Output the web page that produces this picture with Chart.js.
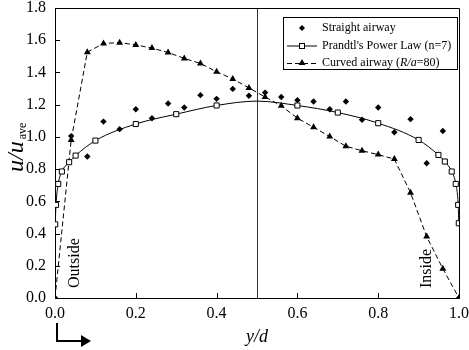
<!DOCTYPE html>
<html>
<head>
<meta charset="utf-8">
<script src="https://cdn.jsdelivr.net/npm/chart.js@4.4.0/dist/chart.umd.min.js"></script>
<style>
  html, body { margin: 0; padding: 0; background: #fff; }
  #wrap { width: 469px; height: 350px; }
</style>
</head>
<body>
<div id="wrap"><canvas id="chart" width="469" height="350"></canvas></div>
<script>
// Measured profiles (y/d vs u/u_ave)
const gridX = [0, 0.04, 0.08, 0.12, 0.16, 0.20, 0.24, 0.28, 0.32, 0.36, 0.40, 0.44, 0.48,
               0.52, 0.56, 0.60, 0.64, 0.68, 0.72, 0.76, 0.80, 0.84, 0.88, 0.92, 0.96, 1.0];

const straightY = [0, 1.005, 0.878, 1.095, 1.048, 1.172, 1.116, 1.207, 1.182, 1.259, 1.236, 1.298, 1.255,
                   1.275, 1.248, 1.228, 1.220, 1.172, 1.220, 1.106, 1.182, 1.029, 1.110, 0.836, 1.037, 0];

const curvedY = [0, 0.980, 1.526, 1.580, 1.585, 1.571, 1.551, 1.524, 1.487, 1.456, 1.404, 1.360, 1.304,
                 1.248, 1.193, 1.116, 1.060, 1.002, 0.942, 0.914, 0.890, 0.862, 0.654, 0.381, 0.182, 0];

// Prandtl's power law curve (n=7)
const prandtlX = [0.0005, 0.0025, 0.008, 0.017, 0.035, 0.051, 0.1, 0.2, 0.3, 0.4, 0.5,
                  0.6, 0.7, 0.8, 0.9, 0.949, 0.965, 0.982, 0.992, 0.998, 0.9995];
const prandtlY = [0.457, 0.578, 0.708, 0.785, 0.843, 0.884, 0.977, 1.080, 1.141, 1.195, 1.222,
                  1.195, 1.151, 1.085, 0.981, 0.888, 0.847, 0.785, 0.708, 0.578, 0.464];

const xTicks = [0, 0.2, 0.4, 0.6, 0.8, 1.0];
const yTicks = [0, 0.2, 0.4, 0.6, 0.8, 1.0, 1.2, 1.4, 1.6, 1.8];

const legendLabels = ['Straight airway', "Prandtl's Power Law (n=7)", 'Curved airway ('];

const SERIF = '"Liberation Serif", "DejaVu Serif", serif';

function toPoints(xs, ys) {
  return xs.map((x, i) => ({ x: x, y: ys[i] }));
}

// small marker helpers for the hand drawn legend
function drawDiamond(ctx, x, y, r) {
  ctx.beginPath();
  ctx.moveTo(x, y - r); ctx.lineTo(x + r, y); ctx.lineTo(x, y + r); ctx.lineTo(x - r, y);
  ctx.closePath();
  ctx.fillStyle = '#000';
  ctx.fill();
}
function drawSquare(ctx, x, y, s) {
  ctx.fillStyle = '#fff';
  ctx.fillRect(x - s / 2, y - s / 2, s, s);
  ctx.strokeStyle = '#000';
  ctx.lineWidth = 1;
  ctx.strokeRect(x - s / 2, y - s / 2, s, s);
}
function drawTriangle(ctx, x, y, r) {
  ctx.beginPath();
  ctx.moveTo(x, y - r);
  ctx.lineTo(x + r * 0.866, y + r / 2);
  ctx.lineTo(x - r * 0.866, y + r / 2);
  ctx.closePath();
  ctx.fillStyle = '#000';
  ctx.fill();
}

// centre line at y/d = 0.5
const underlay = {
  id: 'underlay',
  beforeDatasetsDraw(chart) {
    const { ctx, chartArea: a, scales: { x } } = chart;
    ctx.save();
    ctx.strokeStyle = '#333';
    ctx.lineWidth = 1;
    const cx = Math.round(x.getPixelForValue(0.5)) + 0.5;
    ctx.beginPath();
    ctx.moveTo(cx, a.top);
    ctx.lineTo(cx, a.bottom);
    ctx.stroke();
    ctx.restore();
  }
};

// frame, inner ticks, labels, arrow, legend
const decor = {
  id: 'decor',
  afterDraw(chart) {
    const { ctx, chartArea: a, scales: { x, y } } = chart;
    ctx.save();
    ctx.strokeStyle = '#000';
    ctx.lineWidth = 1;

    // frame top / right
    ctx.beginPath();
    ctx.moveTo(a.left, a.top + 0.5);
    ctx.lineTo(a.right + 0.5, a.top + 0.5);
    ctx.lineTo(a.right + 0.5, a.bottom);
    ctx.stroke();

    // inner tick marks
    ctx.beginPath();
    xTicks.forEach(v => {
      const px = Math.round(x.getPixelForValue(v)) + 0.5;
      ctx.moveTo(px, a.bottom);
      ctx.lineTo(px, a.bottom - 5);
    });
    yTicks.forEach(v => {
      const py = Math.round(y.getPixelForValue(v)) + 0.5;
      ctx.moveTo(a.left, py);
      ctx.lineTo(a.left + 5, py);
    });
    ctx.stroke();

    // Outside / Inside labels
    ctx.fillStyle = '#000';
    ctx.font = '16px ' + SERIF;
    ctx.textBaseline = 'alphabetic';
    ctx.textAlign = 'left';
    [['Outside', 79, 288], ['Inside', 431, 288]].forEach(([t, tx, ty]) => {
      ctx.save();
      ctx.translate(tx, ty);
      ctx.rotate(-Math.PI / 2);
      ctx.fillText(t, 0, 0);
      ctx.restore();
    });

    // y axis title u/u_ave
    ctx.save();
    ctx.translate(23, 172);
    ctx.rotate(-Math.PI / 2);
    ctx.font = 'italic 24px ' + SERIF;
    ctx.fillText('u/u', 0, 0);
    const w = ctx.measureText('u/u').width;
    ctx.font = '12px ' + SERIF;
    ctx.fillText('ave', w + 2, 3);
    ctx.restore();

    // flow direction arrow
    ctx.lineWidth = 2;
    ctx.beginPath();
    ctx.moveTo(57, 323);
    ctx.lineTo(57, 341);
    ctx.lineTo(82, 341);
    ctx.stroke();
    ctx.beginPath();
    ctx.moveTo(81, 335);
    ctx.lineTo(91, 341);
    ctx.lineTo(81, 347);
    ctx.closePath();
    ctx.fill();

    // legend box
    const bx = 283, by = 17, bw = 174, bh = 52;
    ctx.fillStyle = '#fff';
    ctx.fillRect(bx, by, bw, bh);
    ctx.lineWidth = 1;
    ctx.strokeStyle = '#000';
    ctx.strokeRect(bx + 0.5, by + 0.5, bw, bh);

    const rows = [28, 45.5, 63];
    const sx0 = 287, sx1 = 317, sm = 302, tx = 322;
    ctx.font = '12px ' + SERIF;
    ctx.textBaseline = 'middle';
    ctx.fillStyle = '#000';

    drawDiamond(ctx, sm, rows[0], 3);
    ctx.fillStyle = '#000';
    ctx.fillText(legendLabels[0], tx, rows[0]);

    ctx.beginPath();
    ctx.moveTo(sx0, rows[1] + 0.5);
    ctx.lineTo(sx1, rows[1] + 0.5);
    ctx.stroke();
    drawSquare(ctx, sm, rows[1] + 0.5, 5);
    ctx.fillStyle = '#000';
    ctx.fillText(legendLabels[1], tx, rows[1]);

    ctx.setLineDash([5, 3]);
    ctx.beginPath();
    ctx.moveTo(sx0, rows[2] + 0.5);
    ctx.lineTo(sx1, rows[2] + 0.5);
    ctx.stroke();
    ctx.setLineDash([]);
    drawTriangle(ctx, sm, rows[2], 4);
    ctx.fillStyle = '#000';
    let cx = tx;
    ctx.fillText(legendLabels[2], cx, rows[2]);
    cx += ctx.measureText(legendLabels[2]).width;
    ctx.font = 'italic 12px ' + SERIF;
    ctx.fillText('R/a', cx, rows[2]);
    cx += ctx.measureText('R/a').width;
    ctx.font = '12px ' + SERIF;
    ctx.fillText('=80)', cx, rows[2]);

    ctx.restore();
  }
};

const ctx = document.getElementById('chart');

new Chart(ctx, {
  type: 'scatter',
  data: {
    datasets: [
      {
        label: 'Straight airway',
        data: toPoints(gridX, straightY),
        showLine: false,
        pointStyle: 'rectRot',
        pointRadius: 3.2,
        backgroundColor: '#000',
        borderColor: '#000',
        borderWidth: 0
      },
      {
        label: "Prandtl's Power Law (n=7)",
        data: toPoints(prandtlX, prandtlY),
        showLine: true,
        cubicInterpolationMode: 'monotone',
        borderColor: '#000',
        borderWidth: 1,
        pointStyle: 'rect',
        pointRadius: c => (c.raw && c.raw.x === 0.5 ? 0 : 3.6),
        pointBackgroundColor: '#fff',
        pointBorderColor: '#000',
        pointBorderWidth: 1
      },
      {
        label: 'Curved airway (R/a=80)',
        data: toPoints(gridX, curvedY),
        showLine: true,
        borderColor: '#000',
        borderWidth: 1,
        borderDash: [5, 3],
        pointStyle: 'triangle',
        pointRadius: 4,
        pointBackgroundColor: '#000',
        pointBorderColor: '#000',
        pointBorderWidth: 0
      }
    ]
  },
  options: {
    responsive: false,
    animation: false,
    events: [],
    layout: { padding: { left: 0, right: 10, top: 8, bottom: 0 } },
    plugins: {
      legend: { display: false },
      tooltip: { enabled: false }
    },
    scales: {
      x: {
        type: 'linear',
        min: 0,
        max: 1,
        afterFit: s => { s.height = 52; s.paddingLeft = 0; s.paddingRight = 0; },
        afterBuildTicks: s => { s.ticks = xTicks.map(v => ({ value: v })); },
        ticks: {
          callback: v => Number(v).toFixed(1),
          color: '#000',
          padding: 6,
          maxRotation: 0,
          font: { family: SERIF, size: 16 }
        },
        grid: { display: false, drawTicks: false },
        border: { display: true, color: '#000', width: 1 },
        title: {
          display: true,
          text: 'y/d',
          color: '#000',
          padding: { top: 0, bottom: 2 },
          font: { family: SERIF, size: 18, style: 'italic' }
        }
      },
      y: {
        type: 'linear',
        min: 0,
        max: 1.8,
        afterFit: s => { s.width = 55; s.paddingTop = 0; s.paddingBottom = 0; },
        afterBuildTicks: s => { s.ticks = yTicks.map(v => ({ value: v })); },
        ticks: {
          callback: v => Number(v).toFixed(1),
          color: '#000',
          padding: 9,
          font: { family: SERIF, size: 16 }
        },
        grid: { display: false, drawTicks: false },
        border: { display: true, color: '#000', width: 1 }
      }
    }
  },
  plugins: [underlay, decor]
});
</script>
</body>
</html>
